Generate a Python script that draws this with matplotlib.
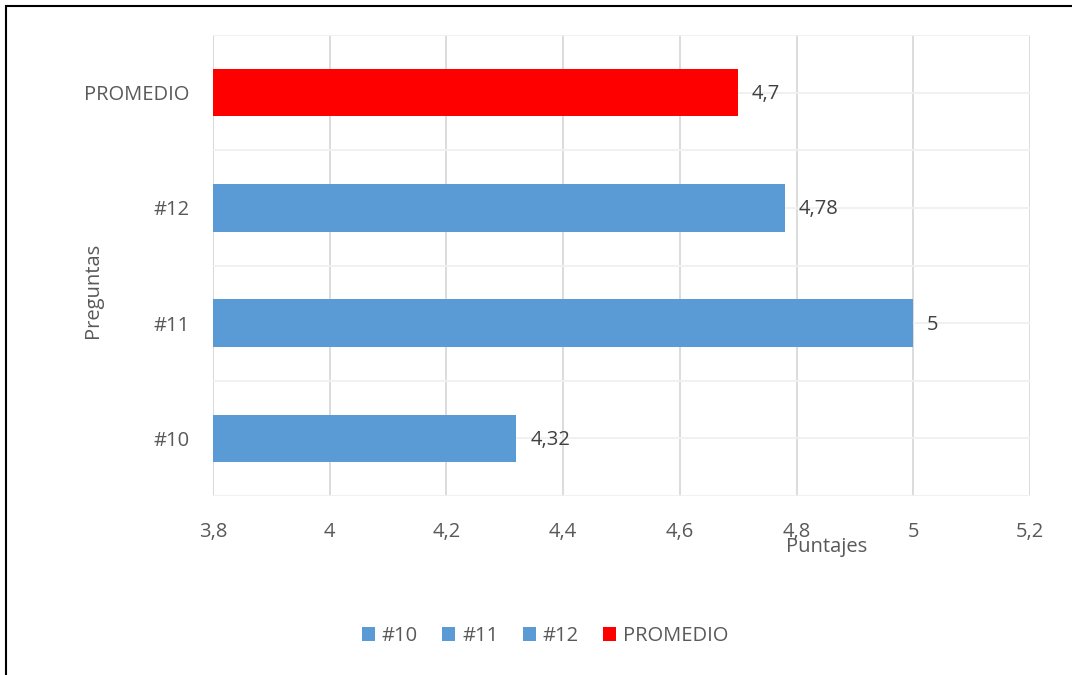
import matplotlib.pyplot as plt
from matplotlib.patches import Rectangle
from matplotlib.ticker import MultipleLocator, FuncFormatter

plt.rcParams['font.family'] = ['Open Sans', 'DejaVu Sans']

preguntas = ['#10', '#11', '#12', 'PROMEDIO']
puntajes = [4.32, 5.0, 4.78, 4.7]
colores = ['#5b9bd5', '#5b9bd5', '#5b9bd5', '#ff0000']

gris = '#595959'
tam = 14.5

fig = plt.figure(figsize=(10.72, 6.75), dpi=100)
ax = fig.add_axes([213 / 1072, 1 - 496 / 675, (1030 - 213) / 1072, (496 - 35) / 675])

for i, (nombre, valor, color) in enumerate(zip(preguntas, puntajes, colores)):
    ax.barh(i, valor - 3.8, left=3.8, height=0.41, color=color, label=nombre, zorder=3)
    etiqueta = ('%g' % valor).replace('.', ',')
    ax.annotate(etiqueta, (valor, i), xytext=(10, -1), textcoords='offset points',
                va='center', ha='left', fontsize=tam, color='#404040')

ax.set_xlim(3.8, 5.2)
ax.set_ylim(-0.5, 3.5)
ax.xaxis.set_major_locator(MultipleLocator(0.2))
ax.xaxis.set_major_formatter(FuncFormatter(lambda v, p: ('%g' % round(v, 2)).replace('.', ',')))
ax.set_yticks(range(len(preguntas)))
ax.set_yticklabels(preguntas)
ax.set_yticks([y - 0.5 for y in range(len(preguntas) + 1)] + [3.0], minor=True)
ax.tick_params(axis='both', which='both', length=0, labelsize=tam, labelcolor=gris)
ax.tick_params(axis='x', pad=19)
ax.tick_params(axis='y', pad=17)

ax.grid(axis='x', color='#d9d9d9', linewidth=1.3, zorder=0)
ax.grid(axis='y', which='both', color='#f0f0f0', linewidth=1.3, zorder=0)
for s in ax.spines.values():
    s.set_visible(False)
ax.axvline(3.8, color='#d9d9d9', linewidth=1.3, zorder=1)

fig.text(827 / 1072, 1 - 547 / 675, 'Puntajes', ha='center', va='center', fontsize=tam, color=gris)
fig.text(93 / 1072, 1 - 290 / 675, 'Preguntas', ha='center', va='center', rotation=90,
         fontsize=tam, color=gris)

fig.legend(loc='center', bbox_to_anchor=(545 / 1072, 1 - 636 / 675), ncol=4, frameon=False,
           fontsize=tam, labelcolor=gris, handlelength=0.65, handleheight=0.65,
           handletextpad=0.35, columnspacing=1.2)

# marco exterior
fig.patches.append(Rectangle((6 / 1072, -0.01), 1.02, 1 - 6 / 675 + 0.01, transform=fig.transFigure,
                             fill=False, edgecolor='black', linewidth=1.5))

fig.savefig('out.png', dpi=100)
